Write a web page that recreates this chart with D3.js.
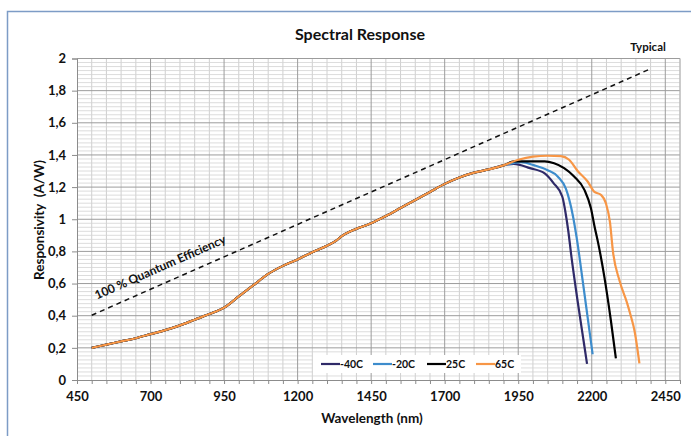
<!DOCTYPE html>
<html><head><meta charset="utf-8">
<script src="https://cdn.jsdelivr.net/npm/d3@7"></script>
<style>
html,body{margin:0;padding:0;background:#fff;}
svg{display:block;}
text{font-family:Lato,"Open Sans",sans-serif;font-weight:bold;fill:#111;}
</style></head><body>
<div id="chart"></div>
<script>
// ---- data ----
const xTicks = [450, 700, 950, 1200, 1450, 1700, 1950, 2200, 2450];
const yTicks = [0, 0.2, 0.4, 0.6, 0.8, 1, 1.2, 1.4, 1.6, 1.8, 2];
const seriesNames = ["-40C", "-20C", "25C", "65C"];
const seriesColors = ["#2f2a68", "#3d8ccc", "#000000", "#f79646"];

// shared part of all curves
const commonWl   = [500, 550, 600, 650, 700, 750, 800, 850, 900, 950, 1000, 1050, 1100, 1150, 1200, 1250, 1300, 1330, 1350, 1380, 1400, 1450, 1500, 1550, 1600, 1650, 1700, 1750, 1800, 1850, 1900];
const commonResp = [0.20, 0.22, 0.24, 0.26, 0.285, 0.31, 0.34, 0.375, 0.41, 0.45, 0.52, 0.59, 0.66, 0.71, 0.75, 0.795, 0.835, 0.865, 0.895, 0.925, 0.94, 0.975, 1.02, 1.07, 1.12, 1.17, 1.22, 1.26, 1.29, 1.31, 1.335];

// temperature-dependent tails
const tailWlM40   = [1935, 1990, 2040, 2070, 2100, 2110, 2120, 2130, 2152, 2175, 2184];
const tailRespM40 = [1.345, 1.318, 1.285, 1.225, 1.14, 1.05, 0.93, 0.78, 0.49, 0.21, 0.10];
const tailWlM20   = [1960, 2005, 2050, 2085, 2112, 2135, 2150, 2169, 2186, 2203];
const tailRespM20 = [1.355, 1.335, 1.305, 1.265, 1.19, 1.03, 0.87, 0.62, 0.39, 0.16];
const tailWl25    = [1935, 1970, 2040, 2072, 2106, 2140, 2175, 2197, 2210, 2222, 2243, 2265, 2282];
const tailResp25  = [1.36, 1.36, 1.36, 1.348, 1.318, 1.266, 1.183, 1.07, 0.95, 0.85, 0.64, 0.37, 0.135];
const tailWl65    = [1950, 2000, 2050, 2095, 2123, 2152, 2186, 2208, 2231, 2248, 2262, 2272, 2294, 2320, 2334, 2345, 2362];
const tailResp65  = [1.37, 1.39, 1.395, 1.393, 1.37, 1.30, 1.235, 1.172, 1.152, 1.10, 0.98, 0.80, 0.62, 0.48, 0.39, 0.31, 0.104];

// 100% quantum efficiency line
const qeWl   = [500, 2400];
const qeResp = [0.403, 1.936];

// ---- layout ----
const W = 691, H = 436;
const svg = d3.select("#chart").append("svg").attr("width", W).attr("height", H);
svg.append("rect").attr("width", W).attr("height", H).attr("fill", "#fff");
// outer frame
svg.append("path").attr("d", `M7.5,${H} V11.5 H${W}`).attr("fill", "none")
  .attr("stroke", "#7d9cc6").attr("stroke-width", 1.5);

const x = d3.scaleLinear().domain([450, 2500]).range([77, 680]);
const y = d3.scaleLinear().domain([0, 2]).range([380, 58.5]);

const g = svg.append("g");
// minor grid
g.selectAll(".vminor").data(d3.range(500, 2501, 50).filter(v => (v - 450) % 250 !== 0))
  .join("line").attr("x1", d => x(d)).attr("x2", d => x(d)).attr("y1", y(0)).attr("y2", y(2))
  .attr("stroke", "#cacaca").attr("stroke-width", 0.9);
g.selectAll(".hminor").data(d3.range(1, 80).filter(i => i % 8 !== 0).map(i => i * 0.025))
  .join("line").attr("x1", x(450)).attr("x2", x(2500)).attr("y1", d => y(d)).attr("y2", d => y(d))
  .attr("stroke", "#d3d3d3").attr("stroke-width", 0.8);
// major grid
g.selectAll(".vmajor").data(xTicks.slice(1))
  .join("line").attr("x1", d => x(d)).attr("x2", d => x(d)).attr("y1", y(0)).attr("y2", y(2))
  .attr("stroke", "#9c9c9c").attr("stroke-width", 1);
g.selectAll(".hmajor").data(yTicks.slice(1))
  .join("line").attr("x1", x(450)).attr("x2", x(2500)).attr("y1", d => y(d)).attr("y2", d => y(d))
  .attr("stroke", "#9c9c9c").attr("stroke-width", 1);
// right border
g.append("line").attr("x1", x(2500)).attr("x2", x(2500)).attr("y1", y(0)).attr("y2", y(2))
  .attr("stroke", "#b0b0b0");

// axes
const loc = d3.formatLocale({decimal: ",", thousands: ".", grouping: [3], currency: ["", ""]});
const yFmt = loc.format("~g");
const yAxis = d3.axisLeft(y).tickValues(yTicks).tickFormat(yFmt).tickSize(5).tickPadding(6);
const ya = svg.append("g").attr("transform", `translate(${x(450)},0)`).call(yAxis);
ya.select(".domain").attr("stroke", "#8c8c8c");
ya.selectAll(".tick line").attr("stroke", "#8c8c8c");
ya.selectAll("text").attr("font-size", 13).attr("fill", "#111");

const xAxisMinor = d3.axisBottom(x).tickValues(d3.range(450, 2501, 50)).tickFormat("").tickSize(4).tickSizeOuter(0);
const xam = svg.append("g").attr("transform", `translate(0,${y(0)})`).call(xAxisMinor);
xam.select(".domain").attr("stroke", "#8c8c8c");
xam.selectAll(".tick line").attr("stroke", "#8c8c8c");
const xAxis = d3.axisBottom(x).tickValues(xTicks).tickFormat(d3.format("d")).tickSize(0).tickPadding(12);
const xa = svg.append("g").attr("transform", `translate(0,${y(0)})`).call(xAxis);
xa.select(".domain").remove();
xa.selectAll("text").attr("font-size", 13).attr("fill", "#111");

// QE line
const line = d3.line().x(d => x(d[0])).y(d => y(d[1]));
svg.append("path").datum(d3.zip(qeWl, qeResp)).attr("d", line)
  .attr("fill", "none").attr("stroke", "#111").attr("stroke-width", 1.5).attr("stroke-dasharray", "5,4");
const ang = Math.atan2(y(qeResp[1]) - y(qeResp[0]), x(qeWl[1]) - x(qeWl[0])) * 180 / Math.PI;
svg.append("text").attr("transform", `translate(162,271) rotate(${ang})`).attr("text-anchor", "middle")
  .attr("font-size", 12).text("100 % Quantum Efficiency");

// curves
const tails = [[tailWlM40, tailRespM40], [tailWlM20, tailRespM20], [tailWl25, tailResp25], [tailWl65, tailResp65]];
const curve = d3.line().x(d => x(d[0])).y(d => y(d[1])).curve(d3.curveMonotoneX);
tails.forEach((t, i) => {
  const pts = d3.zip(commonWl, commonResp).concat(d3.zip(t[0], t[1]));
  svg.append("path").datum(pts).attr("d", curve).attr("fill", "none")
    .attr("stroke", seriesColors[i]).attr("stroke-width", 2.2).attr("stroke-linejoin", "round");
});

// legend
const lg = svg.append("g");
lg.append("rect").attr("x", 313).attr("y", 355).attr("width", 208).attr("height", 18).attr("fill", "#fff");
const legX = [321, 373, 427, 476];
seriesNames.forEach((n, i) => {
  lg.append("line").attr("x1", legX[i]).attr("x2", legX[i] + 19).attr("y1", 364).attr("y2", 364)
    .attr("stroke", seriesColors[i]).attr("stroke-width", 2.2);
  lg.append("text").attr("x", legX[i] + 19).attr("y", 368).attr("font-size", 10.5).text(n);
});

// titles
svg.append("text").attr("x", 360).attr("y", 40).attr("text-anchor", "middle").attr("font-size", 16).text("Spectral Response");
svg.append("text").attr("x", 648).attr("y", 51).attr("text-anchor", "middle").attr("font-size", 11.5).text("Typical");
svg.append("text").attr("transform", "translate(44,220) rotate(-90)").attr("text-anchor", "middle")
  .attr("font-size", 13.5).attr("xml:space", "preserve").text("Responsivity\u00a0 (A/W)");
svg.append("text").attr("x", 372).attr("y", 423).attr("text-anchor", "middle").attr("font-size", 13.5).text("Wavelength (nm)");
</script>
</body></html>
